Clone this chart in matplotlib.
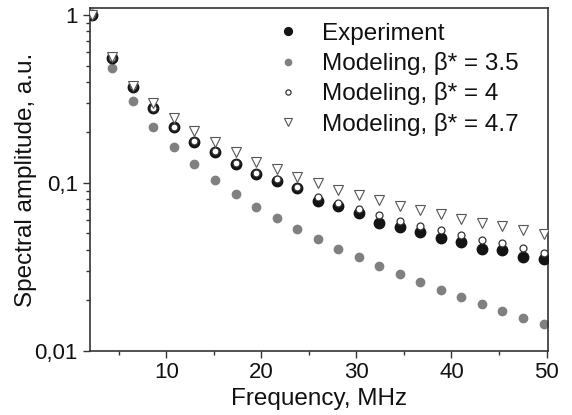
import matplotlib
matplotlib.use("Agg")
import matplotlib.pyplot as plt
from matplotlib.ticker import FixedLocator, FuncFormatter, LogLocator, NullFormatter
import numpy as np

plt.rcParams['font.family'] = ['Liberation Sans', 'DejaVu Sans']

freq = [2.16, 4.32, 6.48, 8.64, 10.8, 12.96, 15.12, 17.28, 19.44, 21.6, 23.76,
        25.92, 28.08, 30.24, 32.4, 34.56, 36.72, 38.88, 41.04, 43.2, 45.36, 47.52, 49.68]

experiment = [1.0, 0.554, 0.375, 0.279, 0.215, 0.176, 0.153, 0.130, 0.1127, 0.103, 0.093,
              0.0784, 0.0729, 0.0665, 0.058, 0.0549, 0.0508, 0.0468, 0.0443, 0.0406,
              0.0399, 0.0361, 0.0354]
model_35 = [1.0, 0.487, 0.308, 0.217, 0.164, 0.129, 0.104, 0.0864, 0.0722, 0.0616, 0.053,
            0.0462, 0.0406, 0.0361, 0.032, 0.0287, 0.0257, 0.0231, 0.0209, 0.0191,
            0.0173, 0.0157, 0.0144]
model_4 = [1.0, 0.556, 0.378, 0.281, 0.217, 0.178, 0.155, 0.132, 0.114, 0.105, 0.095,
           0.0822, 0.0757, 0.0697, 0.0645, 0.0596, 0.0556, 0.0524, 0.0488, 0.0455,
           0.0437, 0.0411, 0.0384]
model_47 = [1.0, 0.56, 0.38, 0.301, 0.244, 0.205, 0.1755, 0.152, 0.134, 0.121, 0.109,
            0.0996, 0.0908, 0.0848, 0.079, 0.0732, 0.069, 0.065, 0.061, 0.0575,
            0.0556, 0.0524, 0.0497]

labels = ["Experiment", "Modeling, β* = 3.5", "Modeling, β* = 4", "Modeling, β* = 4.7"]

fig = plt.figure(figsize=(5.72, 4.15), dpi=100)
ax = fig.add_axes([0.157, 0.155, 0.801, 0.825])

ax.plot(freq, model_35, linestyle='none', marker='o', markersize=6.0,
        markerfacecolor='#808080', markeredgecolor='#808080', zorder=2, label=labels[1])
ax.plot(freq, experiment, linestyle='none', marker='o', markersize=7.5,
        markerfacecolor='#141414', markeredgecolor='#141414', zorder=3, label=labels[0])
ax.plot(freq, model_4, linestyle='none', marker='o', markersize=5.0, markeredgewidth=0.9,
        markerfacecolor='white', markeredgecolor='#333333', zorder=4, label=labels[2])
ax.plot(freq, model_47, linestyle='none', marker='v', markersize=7.5, markeredgewidth=0.8,
        markerfacecolor='white', markeredgecolor='#555555', zorder=5, label=labels[3])

ax.set_yscale('log')
ax.set_xlim(1.95, 50.15)
ax.set_ylim(0.01, 1.1)

ax.xaxis.set_major_locator(FixedLocator([10, 20, 30, 40, 50]))
ax.xaxis.set_minor_locator(FixedLocator([5, 15, 25, 35, 45]))
ax.yaxis.set_major_locator(FixedLocator([0.01, 0.1, 1]))
ax.yaxis.set_minor_locator(LogLocator(base=10, subs=np.arange(2, 10)))
ax.yaxis.set_minor_formatter(NullFormatter())
ax.yaxis.set_major_formatter(FuncFormatter(lambda v, p: {0.01: "0,01", 0.1: "0,1", 1: "1"}.get(round(v, 2), "")))

ax.tick_params(which='major', direction='out', length=5, width=1.0, labelsize=16,
               colors='#333333', labelcolor='#111111', top=False, right=False)
ax.tick_params(which='minor', direction='out', length=3, width=1.0, colors='#333333',
               top=False, right=False)
for s in ax.spines.values():
    s.set_linewidth(1.2)
    s.set_color('#333333')

ax.set_xlabel("Frequency, MHz", fontsize=17.5, color='#111111', labelpad=3)
ax.set_ylabel("Spectral amplitude, a.u.", fontsize=17.5, color='#111111', labelpad=-2)

h, l = ax.get_legend_handles_labels()
order = [1, 0, 2, 3]
leg = ax.legend([h[i] for i in order], [l[i] for i in order], loc='upper left',
                bbox_to_anchor=(0.375, 1.0), frameon=False, fontsize=17.5,
                labelspacing=0.30, handletextpad=0.9, handlelength=1.0, borderaxespad=0.2,
                markerscale=0.75)
for t in leg.get_texts():
    t.set_color('#111111')

fig.savefig("out.png", dpi=100)
